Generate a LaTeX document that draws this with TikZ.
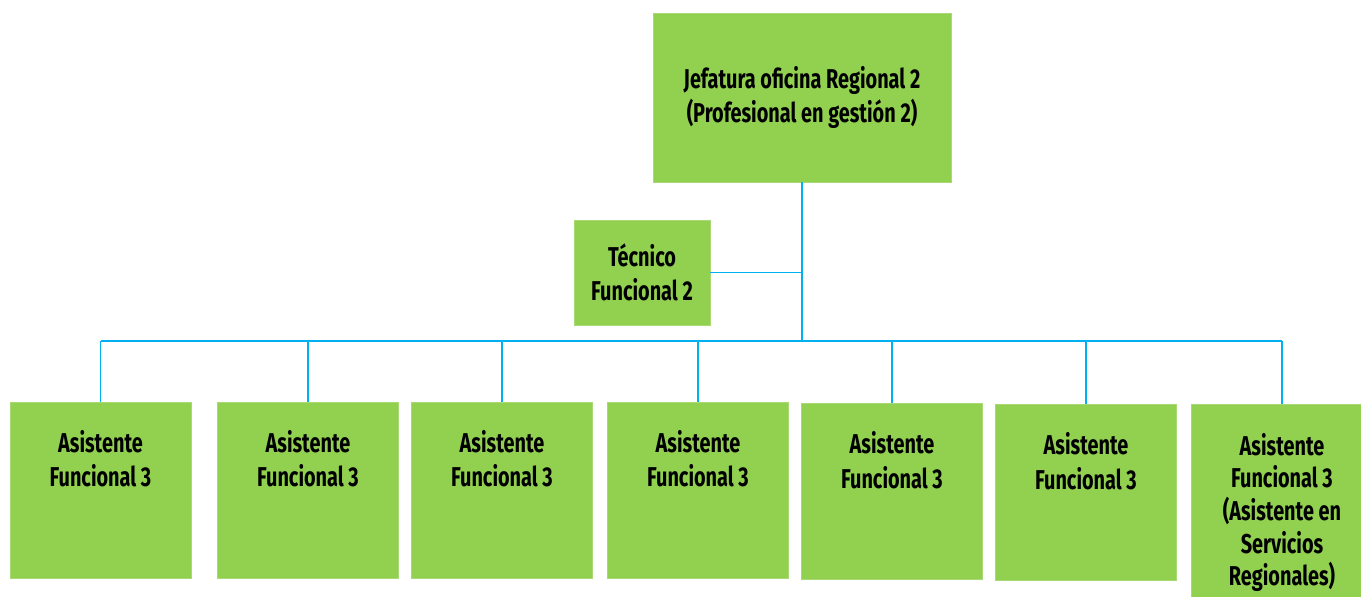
\documentclass[tikz,border=0pt]{standalone}
\usepackage{fontspec}
\setmainfont{Fira Sans}[FakeStretch=0.73]
\definecolor{cajaverde}{RGB}{146,208,80}
\definecolor{lineaazul}{RGB}{0,176,240}

\begin{document}
\begin{tikzpicture}[x=0.02cm, y=-0.02cm,
    caja/.style={fill=cajaverde, draw=cajaverde!80!white, line width=0.3pt, inner sep=0pt,
      font=\bfseries\fontsize{15.5}{19.6}\selectfont, align=center},
    asis/.style={caja, minimum width=3.62cm, minimum height=3.52cm},
    rotulo/.style={anchor=north, inner sep=0pt, yshift=-0.56cm,
      font=\bfseries\fontsize{15.5}{19.6}\selectfont, align=center},
    enlace/.style={draw=lineaazul, line width=1.1pt}]
  \useasboundingbox (0,0) rectangle (1361,597);

  \node[caja, minimum width=5.96cm, minimum height=3.38cm] (jefe) at (802,97.5)
    {Jefatura oficina Regional 2\\(Profesional en gestión 2)};

  \node[caja, minimum width=2.72cm, minimum height=2.1cm] (tecnico) at (642,272.5)
    {Técnico\\Funcional 2};

  \foreach \n/\cx/\cy in {1/100.5/490, 2/308/490, 3/502/490, 4/698/490, 5/892/491.5, 6/1086/492.5}
    \node[asis, label={[rotulo]north:Asistente\\Funcional 3}] (asis\n) at (\cx,\cy) {};

  \node[asis, minimum height=3.92cm,
    label={[rotulo, yshift=-0.02cm, font=\bfseries\fontsize{15.5}{18.6}\selectfont]north:Asistente\\Funcional 3\\(Asistente en\\Servicios\\Regionales)}]
    (asis7) at (1282,502) {};

  % \node at (803,341) {};
  \coordinate (barra) at (0,341);

  \draw[enlace] (jefe.south) -- (jefe.south |- barra);
  \draw[enlace] (tecnico.east) -- (tecnico.east -| jefe.south);
  \draw[enlace] (asis1.north |- barra) -- (asis7.north |- barra);
  \foreach \n in {1,...,7}
    \draw[enlace] (asis\n.north |- barra) -- (asis\n.north);
\end{tikzpicture}
\end{document}
